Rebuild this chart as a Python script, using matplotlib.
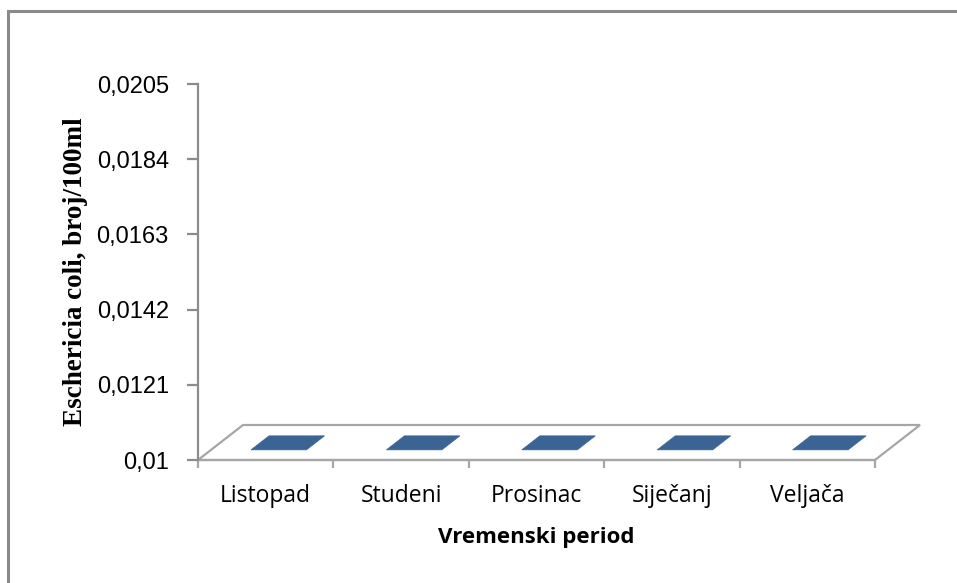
import numpy as np
import matplotlib.pyplot as plt
from matplotlib.patches import Polygon, Rectangle

categories = ["Listopad", "Studeni", "Prosinac", "Siječanj", "Veljača"]
values = [0.01, 0.01, 0.01, 0.01, 0.01]
yticks = [0.01, 0.0121, 0.0142, 0.0163, 0.0184, 0.0205]
ytick_labels = ["0,01", "0,0121", "0,0142", "0,0163", "0,0184", "0,0205"]

ymin, ymax = 0.01, 0.0205
grey = "#8c8c8c"
bar_color = "#3b6494"

fig = plt.figure(figsize=(9.57, 5.83), dpi=100)
ax = fig.add_axes([198 / 957, (583 - 460) / 583, 677 / 957, 376 / 583])
ax.set_xlim(0, len(categories))
ax.set_ylim(ymin, ymax)

# depth vector of the 3d floor, in data units
ddx = 45 / 135.4
ddy = 35 / 376 * (ymax - ymin)

floor = Polygon([(0, ymin), (len(categories), ymin),
                 (len(categories) + ddx, ymin + ddy), (ddx, ymin + ddy)],
                closed=True, facecolor="white", edgecolor="#a6a6a6",
                lw=1.6, clip_on=False, zorder=1)
ax.add_patch(floor)

bw = 0.41
d0, d1 = 0.29, 0.69
for i, v in enumerate(values):
    x0 = i + 0.5 - bw / 2
    x1 = i + 0.5 + bw / 2
    # front face
    if v > ymin:
        ax.add_patch(Polygon([(x0 + d0 * ddx, ymin + d0 * ddy), (x1 + d0 * ddx, ymin + d0 * ddy),
                              (x1 + d0 * ddx, v + d0 * ddy), (x0 + d0 * ddx, v + d0 * ddy)],
                             facecolor="#4f81bd", edgecolor="none", clip_on=False, zorder=2))
    # top face
    ax.add_patch(Polygon([(x0 + d0 * ddx, v + d0 * ddy), (x1 + d0 * ddx, v + d0 * ddy),
                          (x1 + d1 * ddx, v + d1 * ddy), (x0 + d1 * ddx, v + d1 * ddy)],
                         facecolor=bar_color, edgecolor=bar_color, lw=0.5,
                         clip_on=False, zorder=3))

for s in ["top", "right"]:
    ax.spines[s].set_visible(False)
ax.spines["left"].set_color(grey)
ax.spines["left"].set_linewidth(1.6)
ax.spines["bottom"].set_color("#a6a6a6")
ax.spines["bottom"].set_linewidth(1.6)
ax.spines["bottom"].set_zorder(1.5)

ax.set_yticks(yticks)
ax.set_yticklabels(ytick_labels, fontsize=17, family="Liberation Sans")
ax.tick_params(axis="y", direction="out", length=8, width=1.6, color=grey, pad=13)

ax.set_xticks(np.arange(len(categories) + 1))
ax.set_xticklabels([])
ax.set_xticks(np.arange(len(categories)) + 0.5, minor=True)
ax.set_xticklabels(categories, minor=True, fontsize=16.5, family="Open Sans")
ax.tick_params(axis="x", which="major", direction="out", length=6, width=1.6, color="#a6a6a6")
ax.tick_params(axis="x", which="minor", length=0, pad=17)

ax.set_xlabel("Vremenski period", fontsize=16, fontweight="bold", family="Open Sans", labelpad=14)
ax.set_ylabel("Eschericia coli, broj/100ml", fontsize=19.5, fontweight="bold",
              family="Liberation Serif", labelpad=6)
ax.patch.set_visible(False)

# chart border (only top and left visible in the picture)
fig.patches.append(Rectangle((8 / 957, -0.2), 2.0, (583 - 11) / 583 + 0.2,
                             transform=fig.transFigure, fill=False,
                             edgecolor="#8a8a8a", lw=2.2))

fig.savefig("out.png", dpi=100)
